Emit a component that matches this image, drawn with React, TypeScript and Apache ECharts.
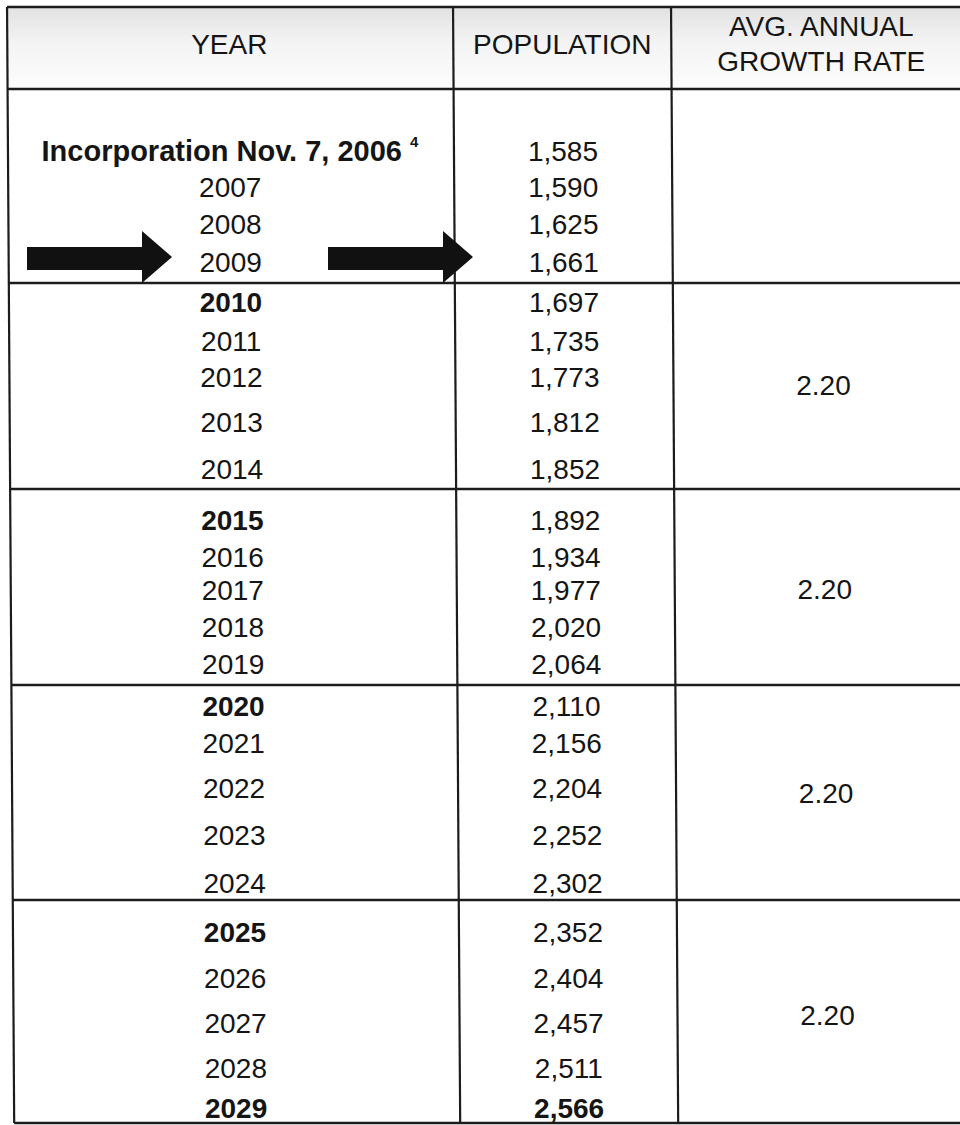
import React, { useEffect, useRef } from "react";
import * as echarts from "echarts";

// ---------- data ----------
const headerLabels = ["YEAR", "POPULATION", "AVG. ANNUAL\nGROWTH RATE"];
const yearLabels = [
  "Incorporation Nov. 7, 2006",
  "2007", "2008", "2009",
  "2010", "2011", "2012", "2013", "2014",
  "2015", "2016", "2017", "2018", "2019",
  "2020", "2021", "2022", "2023", "2024",
  "2025", "2026", "2027", "2028", "2029",
];
const populationValues = [
  1585, 1590, 1625, 1661,
  1697, 1735, 1773, 1812, 1852,
  1892, 1934, 1977, 2020, 2064,
  2110, 2156, 2204, 2252, 2302,
  2352, 2404, 2457, 2511, 2566,
];
const periodRowCounts = [4, 5, 5, 5, 5];
const periodRates: (number | null)[] = [null, 2.2, 2.2, 2.2, 2.2];
const boldYears = ["Incorporation Nov. 7, 2006", "2010", "2015", "2020", "2025", "2029"];
const boldPopulation = [2566];
const footnoteMark = "4";

// ---------- layout ----------
const W = 960;
const H = 1125;
const rowCenterY = [
  151, 187, 224, 262,
  302, 341, 377, 422, 469,
  520, 557, 590, 627, 664,
  706, 743, 788, 835, 883,
  932, 978, 1023, 1068, 1108,
];
const ruleY = [7, 89, 283, 489, 685, 900, 1123];
const colCenterX0 = [229, 562, 821];
const colRuleX0 = [7, 453, 671];
const slant = 0.0064;
const headerY = 44;
const arrowTips = [
  [172, 257],
  [473, 257],
];

const FONT = "'Liberation Sans', Arial, Helvetica, sans-serif";
const INK = "#151515";

type Cell = { x: number; y: number; text: string; bold: boolean; kind: string };

function buildCells(): Cell[] {
  const cells: Cell[] = [];
  const cx = (c: number, y: number) => colCenterX0[c] + slant * y;
  headerLabels.forEach((h, c) => {
    cells.push({ x: cx(c, headerY), y: headerY, text: h, bold: false, kind: "header" });
  });
  yearLabels.forEach((yl, i) => {
    const y = rowCenterY[i];
    cells.push({
      x: cx(0, y),
      y,
      text: yl,
      bold: boldYears.includes(yl),
      kind: i === 0 ? "incorp" : "body",
    });
    cells.push({
      x: cx(1, y),
      y,
      text: populationValues[i].toLocaleString("en-US"),
      bold: boldPopulation.includes(populationValues[i]),
      kind: "body",
    });
  });
  let start = 0;
  periodRowCounts.forEach((n, p) => {
    const rate = periodRates[p];
    if (rate !== null) {
      const top = ruleY[p + 1];
      const bottom = ruleY[p + 2];
      const mid1 = (top + bottom) / 2;
      const mid2 = (rowCenterY[start] + rowCenterY[start + n - 1]) / 2;
      const y = (mid1 + mid2) / 2;
      cells.push({ x: cx(2, y), y, text: rate.toFixed(2), bold: false, kind: "body" });
    }
    start += n;
  });
  return cells;
}

function buildRules(): number[][] {
  const rules: number[][] = [];
  ruleY.forEach((y) => {
    rules.push([colRuleX0[0] + slant * y, y, W, y]);
  });
  colRuleX0.forEach((x) => {
    const y1 = ruleY[0];
    const y2 = ruleY[ruleY.length - 1];
    rules.push([x + slant * y1, y1, x + slant * y2, y2]);
  });
  return rules;
}

export default function App() {
  const ref = useRef<HTMLDivElement>(null);

  useEffect(() => {
    document.body.style.margin = "0";
    document.body.style.background = "#ffffff";
    if (!ref.current) return;
    const chart = echarts.init(ref.current, undefined, { renderer: "svg" });
    const cells = buildCells();
    const rules = buildRules();

    const option: any = {
      animation: false,
      backgroundColor: "#ffffff",
      grid: { left: 0, right: 0, top: 0, bottom: 0, containLabel: false },
      xAxis: { type: "value", min: 0, max: W, show: false },
      yAxis: { type: "value", min: 0, max: H, inverse: true, show: false },
      graphic: [
        {
          type: "rect",
          z: -10,
          shape: { x: colRuleX0[0], y: ruleY[0], width: W - colRuleX0[0], height: ruleY[1] - ruleY[0] },
          style: {
            fill: new echarts.graphic.LinearGradient(0, 0, 0, 1, [
              { offset: 0, color: "#e2e2e2" },
              { offset: 0.45, color: "#f4f4f4" },
              { offset: 1, color: "#fdfdfd" },
            ]),
          },
        },
      ],
      series: [
        {
          type: "custom",
          name: "rules",
          coordinateSystem: "cartesian2d",
          clip: false,
          encode: { x: [0, 2], y: [1, 3] },
          data: rules,
          renderItem: (params: any, api: any) => {
            const p1 = api.coord([api.value(0), api.value(1)]);
            const p2 = api.coord([api.value(2), api.value(3)]);
            const horizontal = Math.abs(p1[1] - p2[1]) < 1;
            return {
              type: "line",
              shape: { x1: p1[0], y1: p1[1], x2: p2[0], y2: p2[1] },
              style: { stroke: "#1c1c1c", lineWidth: horizontal ? 2.6 : 2.2 },
            };
          },
        },
        {
          type: "custom",
          name: "arrows",
          coordinateSystem: "cartesian2d",
          clip: false,
          data: arrowTips,
          renderItem: (params: any, api: any) => {
            const tx = api.value(0);
            const ty = api.value(1);
            const pts = [
              [tx - 145, ty - 10],
              [tx - 30, ty - 10],
              [tx - 30, ty - 26],
              [tx, ty],
              [tx - 30, ty + 26],
              [tx - 30, ty + 13],
              [tx - 145, ty + 13],
            ].map((p) => api.coord(p));
            return {
              type: "polygon",
              shape: { points: pts },
              style: { fill: "#111111" },
            };
          },
        },
        {
          type: "custom",
          name: "cells",
          coordinateSystem: "cartesian2d",
          clip: false,
          z: 5,
          data: cells.map((c) => [c.x, c.y]),
          renderItem: (params: any, api: any) => {
            const c = cells[params.dataIndex];
            const p = api.coord([api.value(0), api.value(1)]);
            if (c.kind === "incorp") {
              return {
                type: "text",
                x: p[0],
                y: p[1],
                style: {
                  text: `{m|${c.text} }{s|${footnoteMark}}`,
                  align: "center",
                  verticalAlign: "middle",
                  fill: INK,
                  rich: {
                    m: { fontSize: 29, fontWeight: "bold", fontFamily: FONT, fill: INK, lineHeight: 34 },
                    s: {
                      fontSize: 15,
                      fontWeight: "bold",
                      fontFamily: FONT,
                      fill: INK,
                      verticalAlign: "top",
                      lineHeight: 34,
                      padding: [0, 0, 14, 0],
                    },
                  },
                },
              };
            }
            return {
              type: "text",
              x: p[0],
              y: p[1],
              style: {
                text: c.text,
                align: "center",
                verticalAlign: "middle",
                fontSize: 28,
                lineHeight: 35,
                fontFamily: FONT,
                fontWeight: c.bold ? "bold" : "normal",
                fill: INK,
              },
            };
          },
        },
      ],
    };
    chart.setOption(option);
    return () => {
      chart.dispose();
    };
  }, []);

  return <div ref={ref} style={{ width: W, height: H, background: "#ffffff" }} />;
}
